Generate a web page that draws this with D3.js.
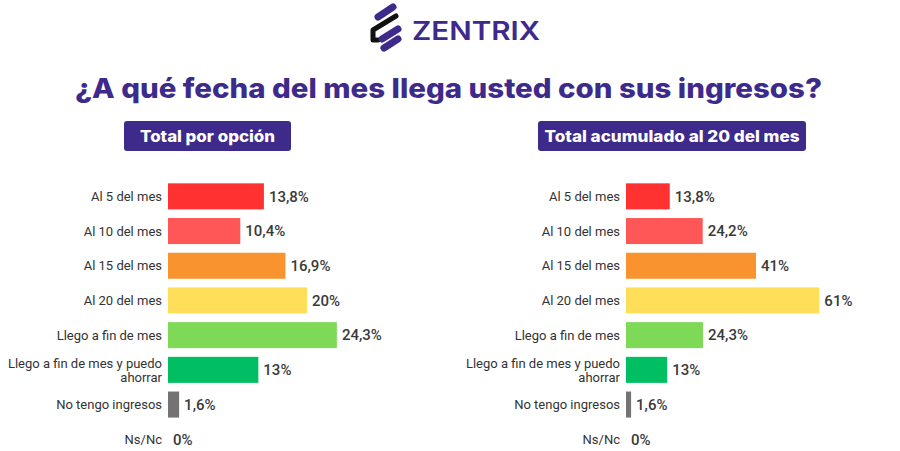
<!DOCTYPE html>
<html>
<head>
<meta charset="utf-8">
<script src="https://cdn.jsdelivr.net/npm/d3@7"></script>
<style>
  body { margin: 0; background: #fff; }
  svg { display: block; }
</style>
</head>
<body>
<svg id="chart" width="900" height="451"></svg>
<script>
// data
const categories = ["Al 5 del mes", "Al 10 del mes", "Al 15 del mes", "Al 20 del mes",
  "Llego a fin de mes", "Llego a fin de mes y puedo ahorrar", "No tengo ingresos", "Ns/Nc"];
const totalValues = [13.8, 10.4, 16.9, 20, 24.3, 13, 1.6, 0];
const cumulativeValues = [13.8, 24.2, 41, 61, 24.3, 13, 1.6, 0];
const barColors = ["#ff3131", "#ff5757", "#f8932e", "#ffde59", "#7ed957", "#00bf63", "#737373", "#737373"];
const panelTitles = ["Total por opción", "Total acumulado al 20 del mes"];

const purple = '#3d2a8a';
const svg = d3.select('#chart');

// logo
const logo = svg.append('g');
logo.append('path')
  .attr('d', 'M378,17 L393,7')
  .attr('stroke', purple).attr('stroke-width', 7).attr('stroke-linecap', 'round').attr('fill', 'none');
logo.append('path')
  .attr('d', 'M396,16 L373,30 L373,40 L378,40')
  .attr('stroke', '#111').attr('stroke-width', 5).attr('stroke-linejoin', 'round').attr('stroke-linecap', 'round').attr('fill', 'none');
logo.append('path')
  .attr('d', 'M382,39 L398,29')
  .attr('stroke', purple).attr('stroke-width', 7).attr('stroke-linecap', 'round').attr('fill', 'none');
logo.append('path')
  .attr('d', 'M384,48 L398,39')
  .attr('stroke', purple).attr('stroke-width', 7).attr('stroke-linecap', 'round').attr('fill', 'none');
logo.append('text')
  .attr('x', 412).attr('y', 40)
  .attr('font-family', 'Inter, sans-serif').attr('font-weight', 600).attr('font-size', 25)
  .attr('fill', purple)
  .attr('textLength', 128).attr('lengthAdjust', 'spacingAndGlyphs')
  .text('ZENTRIX');

// title
svg.append('text')
  .attr('x', 75).attr('y', 98)
  .attr('font-family', 'Inter, sans-serif').attr('font-weight', 800).attr('font-size', 27)
  .attr('fill', purple)
  .attr('textLength', 747).attr('lengthAdjust', 'spacingAndGlyphs')
  .text('¿A qué fecha del mes llega usted con sus ingresos?');

const fmt = v => String(v).replace('.', ',') + '%';

const yScale = d3.scaleBand()
  .domain(categories)
  .range([179, 179 + 8 * 34.7])
  .paddingInner(0.25)
  .paddingOuter(0.125);

function panel(values, x0, pxPerPct, boxX, boxW, title, titleLen) {
  const xScale = d3.scaleLinear().domain([0, 100]).range([x0, x0 + pxPerPct * 100]);
  const g = svg.append('g');

  g.append('rect')
    .attr('x', boxX).attr('y', 121).attr('width', boxW).attr('height', 30)
    .attr('rx', 3).attr('fill', purple);
  g.append('text')
    .attr('x', boxX + boxW / 2).attr('y', 142)
    .attr('text-anchor', 'middle')
    .attr('font-family', 'Inter, sans-serif').attr('font-weight', 800).attr('font-size', 16)
    .attr('fill', '#fff')
    .attr('textLength', titleLen).attr('lengthAdjust', 'spacingAndGlyphs')
    .text(title);

  const rows = g.selectAll('.row')
    .data(categories.map((c, i) => ({ cat: c, value: values[i], color: barColors[i] })))
    .enter().append('g').attr('class', 'row');

  rows.append('rect')
    .attr('x', xScale(0))
    .attr('y', d => yScale(d.cat))
    .attr('width', d => xScale(d.value) - xScale(0))
    .attr('height', yScale.bandwidth())
    .attr('fill', d => d.color);

  rows.append('text')
    .attr('x', d => xScale(d.value) + 5)
    .attr('y', d => yScale(d.cat) + yScale.bandwidth() / 2)
    .attr('dy', '0.35em')
    .attr('font-family', 'Roboto, sans-serif').attr('font-weight', 500).attr('font-size', 15)
    .attr('fill', '#3a3a3a')
    .text(d => fmt(d.value));

  const labels = rows.append('text')
    .attr('x', x0 - 6)
    .attr('y', d => yScale(d.cat) + yScale.bandwidth() / 2)
    .attr('text-anchor', 'end')
    .attr('font-family', 'Roboto, sans-serif').attr('font-size', 13)
    .attr('fill', '#333');

  labels.each(function(d) {
    const t = d3.select(this);
    if (d.cat.length > 22) {
      const words = d.cat.split(' ');
      const last = words.pop();
      t.append('tspan').attr('x', x0 - 6).attr('dy', '-0.15em').text(words.join(' '));
      t.append('tspan').attr('x', x0 - 6).attr('dy', '1.1em').text(last);
    } else {
      t.attr('dy', '0.35em').text(d.cat);
    }
  });
}

panel(totalValues, 168, 6.95, 124, 167, panelTitles[0], 135);
panel(cumulativeValues, 626, 3.17, 538, 268, panelTitles[1], 255);
</script>
</body>
</html>
